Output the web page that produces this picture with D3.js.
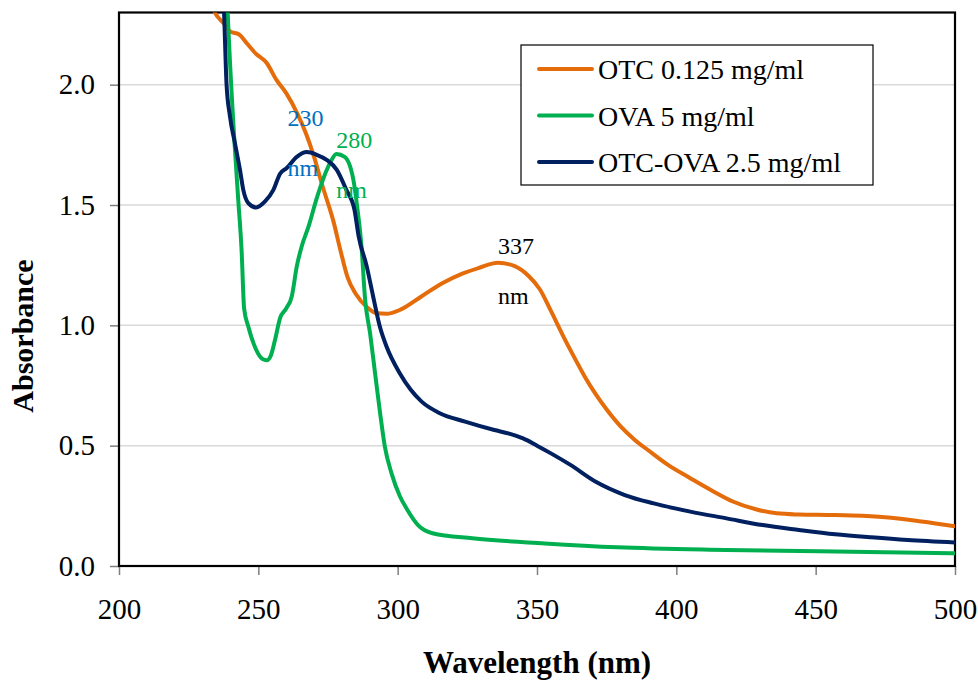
<!DOCTYPE html>
<html>
<head>
<meta charset="utf-8">
<script src="https://cdn.jsdelivr.net/npm/d3@7"></script>
<style>
  html, body { margin: 0; padding: 0; background: #fff; }
  svg { display: block; font-family: "Liberation Serif", "Times New Roman", serif; }
</style>
</head>
<body>
<svg id="chart" width="978" height="680"></svg>
<script>
// UV-Vis absorbance spectra (wavelength in nm, absorbance)
const otcNm  = [230, 234, 238, 240, 243, 246, 249, 253, 256.5, 260, 264, 267, 270, 273, 277, 279.5, 282, 285, 289, 292.5, 296, 301, 308.5, 316, 323, 329, 336, 342, 347, 351, 355, 359, 363, 367, 371, 375, 380, 385, 390, 397, 405, 413, 420.5, 428.5, 436, 444, 454, 463, 475, 488, 500];
const otcAbs = [2.48, 2.31, 2.25, 2.22, 2.21, 2.17, 2.13, 2.09, 2.02, 1.965, 1.88, 1.80, 1.70, 1.58, 1.43, 1.31, 1.20, 1.13, 1.075, 1.05, 1.048, 1.065, 1.12, 1.175, 1.214, 1.238, 1.26, 1.246, 1.205, 1.15, 1.06, 0.965, 0.875, 0.79, 0.715, 0.65, 0.58, 0.525, 0.48, 0.42, 0.365, 0.312, 0.267, 0.236, 0.219, 0.214, 0.212, 0.21, 0.203, 0.185, 0.165];

const ovaNm  = [238, 239, 241.5, 242.8, 244, 244.9, 246.4, 248.8, 251.5, 253, 254.5, 256, 257.8, 260, 262, 263.8, 265.6, 268, 271, 275.7, 278, 281, 284.1, 285.5, 287, 288.3, 290.1, 291.9, 293.7, 295.4, 297.8, 300.8, 303.4, 307.3, 312.5, 326.8, 352.8, 378.9, 417.9, 457, 500];
const ovaAbs = [2.6, 2.3, 1.75, 1.52, 1.31, 1.07, 0.995, 0.91, 0.86, 0.855, 0.875, 0.94, 1.03, 1.07, 1.12, 1.245, 1.33, 1.41, 1.53, 1.674, 1.712, 1.70, 1.605, 1.49, 1.33, 1.11, 0.967, 0.80, 0.635, 0.496, 0.385, 0.29, 0.235, 0.17, 0.136, 0.115, 0.094, 0.078, 0.067, 0.06, 0.053];

const mixNm  = [236.5, 237.7, 238.6, 239.8, 241.6, 243.4, 244.6, 246.4, 249.2, 252.4, 255.4, 257.8, 260.2, 263.8, 267.4, 270.9, 274.5, 278.1, 281.5, 284.5, 286, 288.9, 291.2, 293.6, 296, 300.8, 304.7, 308.6, 315.1, 324.2, 334.7, 340, 345, 350, 355, 362, 371.1, 381.5, 391.9, 405, 418, 431, 444, 457, 470, 483, 500];
const mixAbs = [2.6, 2.3, 2.0, 1.87, 1.757, 1.647, 1.563, 1.508, 1.49, 1.515, 1.563, 1.63, 1.654, 1.70, 1.72, 1.709, 1.688, 1.647, 1.565, 1.48, 1.37, 1.245, 1.12, 0.995, 0.912, 0.80, 0.732, 0.683, 0.635, 0.60, 0.565, 0.55, 0.53, 0.5, 0.468, 0.42, 0.35, 0.295, 0.26, 0.226, 0.198, 0.17, 0.15, 0.132, 0.119, 0.108, 0.098];

const seriesNames  = ["OTC 0.125 mg/ml", "OVA 5 mg/ml", "OTC-OVA 2.5 mg/ml"];
const seriesColors = ["#E46C0A", "#00B050", "#002060"];

const xTicks = [200, 250, 300, 350, 400, 450, 500];
const yTicks = [0, 0.5, 1.0, 1.5, 2.0];

// Peak annotations: wavelength label, position (nm, absorbance), colour
const peakLabels = ["230", "280", "337"];
const peakNm     = [260.5, 278, 336];
const peakAbs    = [1.83, 1.735, 1.295];
const peakColors = ["#0070C0", "#00B050", "#000000"];

const svg = d3.select("#chart");
const plotLeft = 119, plotRight = 955, plotTop = 12.5, plotBottom = 566;

const x = d3.scaleLinear().domain([200, 500]).range([plotLeft, plotRight]);
const y = d3.scaleLinear().domain([0, 2.3]).range([plotBottom, plotTop]);

// horizontal gridlines
svg.append("g")
  .selectAll("line")
  .data(yTicks.filter(d => d > 0))
  .join("line")
  .attr("x1", plotLeft).attr("x2", plotRight)
  .attr("y1", d => y(d)).attr("y2", d => y(d))
  .attr("stroke", "#d9d9d9").attr("stroke-width", 1.5);

// axes
const yAxis = svg.append("g")
  .attr("transform", `translate(${plotLeft},0)`)
  .call(d3.axisLeft(y).tickValues(yTicks).tickFormat(d3.format(".1f"))
        .tickSize(9).tickSizeOuter(0).tickPadding(15));
const xAxis = svg.append("g")
  .attr("transform", `translate(0,${plotBottom})`)
  .call(d3.axisBottom(x).tickValues(xTicks).tickFormat(d3.format("d"))
        .tickSize(9).tickSizeOuter(0).tickPadding(23));
[yAxis, xAxis].forEach(g => {
  g.select(".domain").remove();
  g.selectAll(".tick line").attr("stroke", "#7f7f7f").attr("stroke-width", 1.5);
  g.selectAll(".tick text").attr("font-size", 29).attr("fill", "#000")
    .attr("font-family", '"Liberation Serif", "Times New Roman", serif');
});

// plot frame
svg.append("rect")
  .attr("x", plotLeft).attr("y", plotTop)
  .attr("width", plotRight - plotLeft).attr("height", plotBottom - plotTop)
  .attr("fill", "none").attr("stroke", "#000").attr("stroke-width", 2.2);

// clip region for curves
svg.append("defs").append("clipPath").attr("id", "plotClip")
  .append("rect").attr("x", plotLeft).attr("y", plotTop)
  .attr("width", plotRight - plotLeft).attr("height", plotBottom - plotTop);

const line = d3.line()
  .x(d => x(d[0])).y(d => y(d[1]))
  .curve(d3.curveMonotoneX);

const series = [
  d3.zip(otcNm, otcAbs),
  d3.zip(ovaNm, ovaAbs),
  d3.zip(mixNm, mixAbs)
];

svg.append("g").attr("clip-path", "url(#plotClip)")
  .selectAll("path")
  .data(series)
  .join("path")
  .attr("d", line)
  .attr("fill", "none")
  .attr("stroke", (d, i) => seriesColors[i])
  .attr("stroke-width", 4)
  .attr("stroke-linejoin", "round")
  .attr("stroke-linecap", "round");

// peak labels: value above, "nm" below
peakLabels.forEach((lab, i) => {
  const g = svg.append("g").attr("fill", peakColors[i]).attr("font-size", 24);
  const px = x(peakNm[i]);
  const py = y(peakAbs[i]);
  g.append("text").attr("x", px).attr("y", py).text(lab);
  g.append("text").attr("x", px).attr("y", py + 50).text("nm");
});

// legend
const lg = svg.append("g").attr("transform", "translate(521,45)");
lg.append("rect").attr("width", 352).attr("height", 140)
  .attr("fill", "#fff").attr("stroke", "#000").attr("stroke-width", 1.2);
seriesNames.forEach((name, i) => {
  const ly = 24 + i * 46.5;
  lg.append("line").attr("x1", 18).attr("x2", 71).attr("y1", ly).attr("y2", ly)
    .attr("stroke", seriesColors[i]).attr("stroke-width", 4).attr("stroke-linecap", "round");
  lg.append("text").attr("x", 77).attr("y", ly + 10)
    .attr("font-size", 28).attr("fill", "#000").text(name);
});

// axis titles
svg.append("text")
  .attr("x", 537).attr("y", 673)
  .attr("text-anchor", "middle").attr("font-size", 31).attr("font-weight", "bold")
  .text("Wavelength (nm)");
svg.append("text")
  .attr("transform", "translate(33,336) rotate(-90)")
  .attr("text-anchor", "middle").attr("font-size", 30).attr("font-weight", "bold")
  .text("Absorbance");
</script>
</body>
</html>
